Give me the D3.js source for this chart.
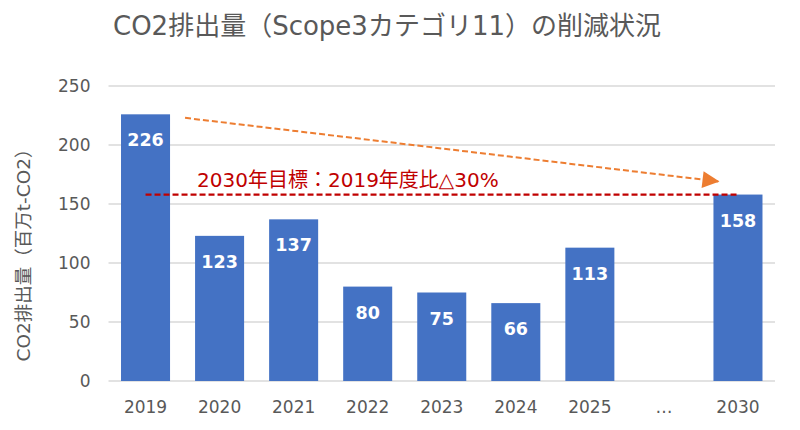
<!DOCTYPE html>
<html>
<head>
<meta charset="utf-8">
<script src="https://cdn.jsdelivr.net/npm/d3@7"></script>
<style>
  body { margin: 0; background: #fff; }
  svg text { font-family: "DejaVu Sans", "Noto Sans CJK JP", sans-serif; }
</style>
</head>
<body>
<div id="chart"></div>
<script>
// chart data
var categories = ["2019", "2020", "2021", "2022", "2023", "2024", "2025", "…", "2030"];
var emissions = [226, 123, 137, 80, 75, 66, 113, null, 158];
var yTicks = [0, 50, 100, 150, 200, 250];
var titleText = "CO2排出量（Scope3カテゴリ11）の削減状況";
var yTitle = "CO2排出量（百万t-CO2）";
var targetText = "2030年目標：2019年度比△30%";
var targetValue = 158;
var arrowFrom = { cat: "2019", value: 223 };
var arrowTo = { cat: "2030", value: 169 };

var width = 800, height = 430;
var margin = { top: 86, right: 25, bottom: 49, left: 108.5 };
var fontStack = '"DejaVu Sans", "Noto Sans CJK JP", sans-serif';

var svg = d3.select("#chart").append("svg")
    .attr("width", width)
    .attr("height", height);

var x = d3.scaleBand()
    .domain(categories)
    .range([margin.left, width - margin.right])
    .paddingInner(0.338)
    .paddingOuter(0.169);

var y = d3.scaleLinear()
    .domain([0, 250])
    .range([height - margin.bottom, margin.top]);

// title
svg.append("text")
    .attr("x", 113)
    .attr("y", 35)
    .attr("fill", "#595959")
    .attr("font-size", 26)
    .text(titleText);

// gridlines
svg.append("g")
    .selectAll("line")
    .data(yTicks)
    .enter().append("line")
    .attr("x1", margin.left)
    .attr("x2", width - margin.right)
    .attr("y1", function(d){ return y(d); })
    .attr("y2", function(d){ return y(d); })
    .attr("stroke", "#d9d9d9")
    .attr("stroke-width", 1.3);

// y axis labels
var yAxis = d3.axisLeft(y).tickValues(yTicks).tickSize(0).tickPadding(18);
var gy = svg.append("g")
    .attr("transform", "translate(" + margin.left + ",0)")
    .call(yAxis);
gy.select(".domain").remove();
gy.selectAll("text")
    .attr("fill", "#595959")
    .attr("font-size", 17)
    .style("font-family", fontStack);

// x axis labels
var xAxis = d3.axisBottom(x).tickSize(0).tickPadding(20);
var gx = svg.append("g")
    .attr("transform", "translate(0," + y(0) + ")")
    .call(xAxis);
gx.select(".domain").remove();
gx.selectAll("text")
    .attr("fill", "#595959")
    .attr("font-size", 17)
    .style("font-family", fontStack);

// y axis title
svg.append("text")
    .attr("transform", "translate(30," + ((y(0) + y(250)) / 2 + 17) + ") rotate(-90)")
    .attr("text-anchor", "middle")
    .attr("fill", "#595959")
    .attr("font-size", 18.5)
    .text(yTitle);

// bars
var rows = categories.map(function(c, i){ return { cat: c, value: emissions[i] }; })
    .filter(function(d){ return d.value != null; });

svg.append("g")
    .selectAll("rect")
    .data(rows)
    .enter().append("rect")
    .attr("x", function(d){ return x(d.cat); })
    .attr("y", function(d){ return y(d.value); })
    .attr("width", x.bandwidth())
    .attr("height", function(d){ return y(0) - y(d.value); })
    .attr("fill", "#4472c4");

svg.append("g")
    .selectAll("text")
    .data(rows)
    .enter().append("text")
    .attr("x", function(d){ return x(d.cat) + x.bandwidth() / 2; })
    .attr("y", function(d){ return y(d.value) + 32; })
    .attr("text-anchor", "middle")
    .attr("fill", "#fff")
    .attr("font-size", 17.5)
    .attr("font-weight", "bold")
    .text(function(d){ return d.value; });

// target line
svg.append("line")
    .attr("x1", x("2019") + x.bandwidth() / 2)
    .attr("x2", x("2030") + x.bandwidth() / 2)
    .attr("y1", y(targetValue))
    .attr("y2", y(targetValue))
    .attr("stroke", "#c00000")
    .attr("stroke-width", 2.2)
    .attr("stroke-dasharray", "6,3");

svg.append("text")
    .attr("x", x("2020") + 2)
    .attr("y", y(targetValue) - 8)
    .attr("fill", "#c00000")
    .attr("font-size", 20)
    .text(targetText);

// trend arrow
svg.append("defs").append("marker")
    .attr("id", "arrowhead")
    .attr("viewBox", "0 0 10 10")
    .attr("refX", 10)
    .attr("refY", 5)
    .attr("markerUnits", "userSpaceOnUse")
    .attr("markerWidth", 19)
    .attr("markerHeight", 17)
    .attr("orient", "auto")
    .append("path")
    .attr("d", "M0,0L10,5L0,10Z")
    .attr("fill", "#ed7d31");

svg.append("line")
    .attr("x1", x(arrowFrom.cat) + x.bandwidth() + 15)
    .attr("y1", y(arrowFrom.value))
    .attr("x2", x(arrowTo.cat) + 6)
    .attr("y2", y(arrowTo.value))
    .attr("stroke", "#ed7d31")
    .attr("stroke-width", 2)
    .attr("stroke-dasharray", "6,3")
    .attr("marker-end", "url(#arrowhead)");
</script>
</body>
</html>
